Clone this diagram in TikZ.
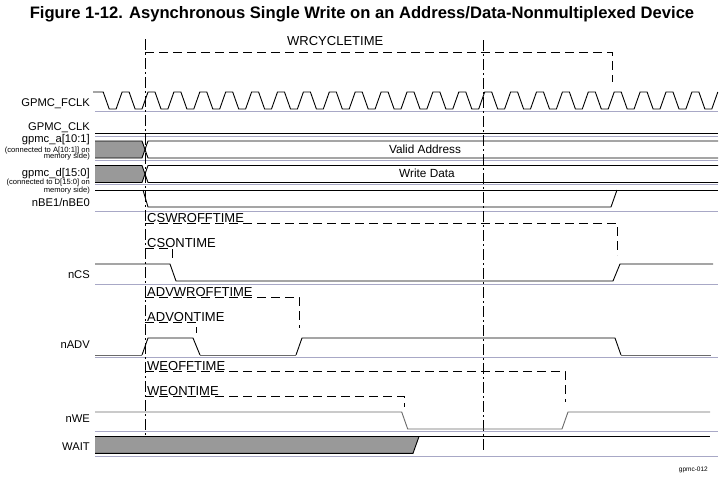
\documentclass[tikz,border=0pt]{standalone}
\usepackage{fontspec}
\setmainfont{Liberation Sans}
\usetikzlibrary{arrows.meta}
\definecolor{sepgray}{HTML}{A8A8C6}
\definecolor{busgray}{HTML}{999999}
\definecolor{wavegray}{HTML}{6A6A6A}
\tikzset{
  sig/.style={line width=0.9pt, black},
  sigdim/.style={line width=0.9pt, wavegray},
  sepline/.style={line width=0.8pt, sepgray},
  tline/.style={line width=0.8pt, dash pattern=on 9pt off 5pt},
  refline/.style={line width=0.8pt, dash pattern=on 11pt off 3pt on 2pt off 3pt},
  siglabel/.style={anchor=base east, inner sep=0pt, font=\fontsize{11.2}{12}\selectfont},
  sidenote/.style={anchor=base east, inner sep=0pt, font=\fontsize{7.6}{8}\selectfont},
  tlabel/.style={anchor=base west, inner sep=0pt, font=\fontsize{13}{14}\selectfont},
  buslabel/.style={anchor=base, inner sep=0pt, font=\fontsize{11.8}{12}\selectfont}
}

\begin{document}
\begin{tikzpicture}[x=1pt, y=-1pt]
\fill[white] (0,0) rectangle (724,480);
\useasboundingbox (0,0) rectangle (724,480);
% Title
\node[anchor=base, inner sep=0pt] (title) at (362,18.3) {\fontsize{16.6}{17}\selectfont\bfseries Figure 1-12. Asynchronous Single Write on an Address/Data-Nonmultiplexed Device};

% Signal names
\node[siglabel] (nmFCLK) at (90,106) {GPMC\_FCLK};
\node[siglabel] (nmCLK) at (90,130.8) {GPMC\_CLK};
\node[siglabel] (nmA) at (90,142) {gpmc\_a[10:1]};
\node[sidenote] (noteA) at (90,152) {(connected to A[10:1]] on};
\node[sidenote] (noteAb) at (90,158.8) {memory side)};
\node[siglabel] (nmD) at (90,176) {gpmc\_d[15:0]};
\node[sidenote] (noteD) at (90,184.2) {(connected to D[15:0] on};
\node[sidenote] (noteDb) at (90,192.8) {memory side)};
\node[siglabel] (nmBE) at (90,206.5) {nBE1/nBE0};
\node[siglabel] (nmCS) at (90,278) {nCS};
\node[siglabel] (nmADV) at (90,348.3) {nADV};
\node[siglabel] (nmWE) at (90,422.7) {nWE};
\node[siglabel] (nmWAIT) at (90,450.7) {WAIT};

% Row separators
\foreach \ys in {111,136,160,184.5,211,284,357,431,456}
  \draw[sepline] (95,\ys) -- (718,\ys);

% Reference lines
\draw[refline] (145,39) -- (145,436);
\draw[refline] (483,40) -- (483,452);

% Timing parameters
\draw[tline] (145,52) -- (612,52) -- (612,82);
\node[tlabel] (tWR) at (287,45) {WRCYCLETIME};
\draw[tline] (145,223) -- (617,223) -- (617,255);
\node[tlabel] (tCSoff) at (147,222.5) {CSWROFFTIME};
\draw[tline] (145,248) -- (172,248) -- (172,260);
\node[tlabel] (tCSon) at (147,247) {CSONTIME};
\draw[tline] (145,297) -- (299,297) -- (299,328);
\node[tlabel] (tADVoff) at (147,296.5) {ADVWROFFTIME};
\draw[tline] (145,322) -- (196,322) -- (196,333);
\node[tlabel] (tADVon) at (147,321.5) {ADVONTIME};
\draw[tline] (145,371) -- (565,371) -- (565,402);
\node[tlabel] (tWEoff) at (147,370.5) {WEOFFTIME};
\draw[tline] (145,396) -- (404,396) -- (404,407);
\node[tlabel] (tWEon) at (147,395) {WEONTIME};

% GPMC_FCLK
\draw[sig] (93,92) -- (103.2,92) -- (109.2,109)
  \foreach \k in {-1,...,21} {
    -- ({145+25.9*\k-3},109) -- ({145+25.9*\k+3},92) -- ({145+25.9*\k+10},92) -- ({145+25.9*\k+16},109)
  } -- (711.8,109) -- (717.8,92);

% GPMC_CLK
\draw[sig] (95,133.3) -- (718,133.3);

% gpmc_a
\fill[busgray] (95,141) -- (142,141) -- (145,149.5) -- (142,158) -- (95,158) -- cycle;
\draw[sig] (95,141) -- (142,141) -- (148,158) -- (718,158);
\draw[sig] (95,158) -- (142,158) -- (148,141) -- (718,141);
\node[buslabel] (valA) at (425,153) {Valid Address};

% gpmc_d
\fill[busgray] (95,165.5) -- (142,165.5) -- (145,174) -- (142,182.5) -- (95,182.5) -- cycle;
\draw[sig] (95,165.5) -- (142,165.5) -- (148,182.5) -- (718,182.5);
\draw[sig] (95,182.5) -- (142,182.5) -- (148,165.5) -- (718,165.5);
\node[buslabel] (valD) at (427,177.5) {Write Data};

% nBE1/nBE0
\draw[sig] (95,190) -- (718,190);
\draw[sig] (143,190) -- (148,207) -- (611,207) -- (617,190);

% nCS
\draw[sig] (95,264) -- (170,264) -- (176,281) -- (613,281) -- (620,264) -- (713,264);

% nADV
\draw[sigdim] (95,355) -- (142,355);
\draw[sig] (142,355) -- (148,338) -- (193,338) -- (200,355);
\draw[sigdim] (200,355) -- (296,355);
\draw[sig] (296,355) -- (302,338) -- (615,338) -- (621,355);
\draw[sigdim] (621,355) -- (711,355);

% nWE
\draw[sigdim] (95,412) -- (401.7,412) -- (407.7,429) -- (562,429) -- (568,412) -- (710,412);

% WAIT
\fill[busgray] (95,436.5) -- (419,436.5) -- (413,453.3) -- (95,453.3) -- cycle;
\draw[sig] (95,436.5) -- (710,436.5);
\draw[sig] (95,453.3) -- (413,453.3) -- (419,436.5);

\node[anchor=base east, inner sep=0pt, font=\fontsize{6.5}{7}\selectfont] (figid) at (708,471) {gpmc-012};
\end{tikzpicture}
\end{document}
